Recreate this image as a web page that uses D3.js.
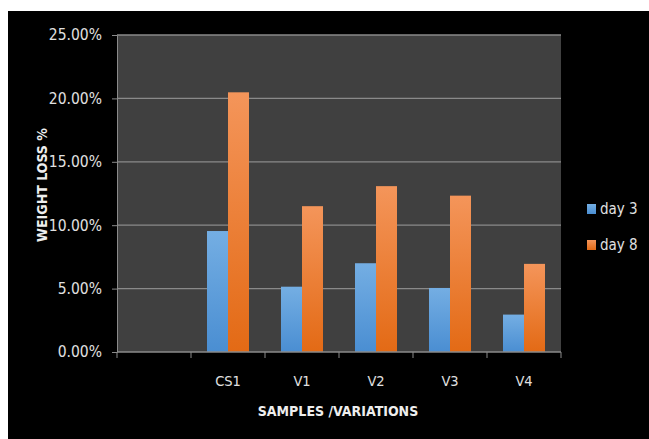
<!DOCTYPE html>
<html>
<head>
<meta charset="utf-8">
<script src="https://cdn.jsdelivr.net/npm/d3@7"></script>
<style>
  body { margin: 0; background: #fff; }
  text { font-family: "Liberation Sans Narrow", "DejaVu Sans Condensed", "Open Sans", sans-serif; }
</style>
</head>
<body>
<div id="chart"></div>
<script>
const categories = ["", "CS1", "V1", "V2", "V3", "V4"];
const day3 = [null, 0.0954, 0.0515, 0.070, 0.0505, 0.0295];
const day8 = [null, 0.2048, 0.1150, 0.1308, 0.1233, 0.0695];
const seriesNames = ["day 3", "day 8"];
const yTicks = [0, 0.05, 0.10, 0.15, 0.20, 0.25];

const W = 649, H = 439;
const margin = {top: 35, left: 117, right: 88, bottom: 87};
const width = W - margin.left - margin.right;
const height = H - margin.top - margin.bottom;

const svg = d3.select("#chart").append("svg")
    .attr("width", W).attr("height", H);

const defs = svg.append("defs");
const grads = [["gBlue", "#74aee3", "#4a8ed2"], ["gOrange", "#f4955a", "#e36a15"]];
grads.forEach(([id, c1, c2]) => {
    const g = defs.append("linearGradient").attr("id", id)
        .attr("x1", 0).attr("y1", 0).attr("x2", 0).attr("y2", 1);
    g.append("stop").attr("offset", "0%").attr("stop-color", c1);
    g.append("stop").attr("offset", "100%").attr("stop-color", c2);
});

// outer black chart area
svg.append("rect").attr("x", 8).attr("y", 11).attr("width", W - 8).attr("height", H - 11)
    .attr("fill", "#000");

const g = svg.append("g").attr("transform", `translate(${margin.left},${margin.top})`);

const x = d3.scaleBand().domain(categories.map((c, i) => i)).range([0, width]);
const y = d3.scaleLinear().domain([0, 0.25]).range([height, 0]);

g.append("rect").attr("width", width).attr("height", height).attr("fill", "#404040");

// gridlines
g.selectAll(".grid").data(yTicks.slice(1)).enter().append("line")
    .attr("x1", 0).attr("x2", width)
    .attr("y1", d => y(d)).attr("y2", d => y(d))
    .attr("stroke", "#8a8a8a").attr("stroke-width", 1.3);

const inner = d3.scaleBand().domain([0, 1]).range([0, 42]);
const barOffset = (x.bandwidth() - 42) / 2;

[day3, day8].forEach((vals, s) => {
    g.selectAll(".bar" + s).data(vals.map((v, i) => ({v, i})).filter(d => d.v != null))
        .enter().append("rect")
        .attr("x", d => x(d.i) + barOffset + inner(s))
        .attr("y", d => y(d.v))
        .attr("width", inner.bandwidth())
        .attr("height", d => height - y(d.v))
        .attr("fill", s === 0 ? "url(#gBlue)" : "url(#gOrange)");
});

// y axis
const yAxis = g.append("g")
    .call(d3.axisLeft(y).tickValues(yTicks).tickFormat(d3.format(".2%")).tickSize(5).tickSizeOuter(0));
yAxis.select(".domain").attr("stroke", "#8a8a8a");
yAxis.selectAll(".tick line").attr("stroke", "#8a8a8a");
yAxis.selectAll(".tick text").attr("fill", "#e0e0e0").attr("font-size", 15.5).attr("x", -15);

// x axis with tick marks at band edges
const xa = g.append("g").attr("transform", `translate(0,${height})`);
xa.append("line").attr("x1", 0).attr("x2", width).attr("stroke", "#8a8a8a").attr("stroke-width", 1.3);
const edges = categories.map((c, i) => x(i)).concat([width]);
xa.selectAll(".xt").data(edges).enter().append("line")
    .attr("x1", d => d).attr("x2", d => d).attr("y1", 0).attr("y2", 6)
    .attr("stroke", "#8a8a8a");
xa.selectAll(".xl").data(categories).enter().append("text")
    .attr("x", (d, i) => x(i) + x.bandwidth() / 2)
    .attr("y", 34)
    .attr("text-anchor", "middle").attr("fill", "#e0e0e0").attr("font-size", 14.5)
    .text(d => d);

// axis titles
svg.append("text").attr("x", 338).attr("y", 416).attr("text-anchor", "middle")
    .attr("fill", "#eeeeee").attr("font-size", 14).attr("font-weight", "bold")
    .text("SAMPLES /VARIATIONS");
svg.append("text").attr("transform", "translate(47,185) rotate(-90)").attr("text-anchor", "middle")
    .attr("fill", "#eeeeee").attr("font-size", 14).attr("font-weight", "bold")
    .text("WEIGHT LOSS %");

// legend
const legend = svg.append("g").attr("transform", "translate(587,204)");
seriesNames.forEach((name, i) => {
    const lg = legend.append("g").attr("transform", `translate(0,${i * 36})`);
    lg.append("rect").attr("width", 9).attr("height", 10)
        .attr("fill", i === 0 ? "url(#gBlue)" : "url(#gOrange)");
    lg.append("text").attr("x", 13).attr("y", 10).attr("fill", "#e0e0e0").attr("font-size", 15).text(name);
});
</script>
</body>
</html>
